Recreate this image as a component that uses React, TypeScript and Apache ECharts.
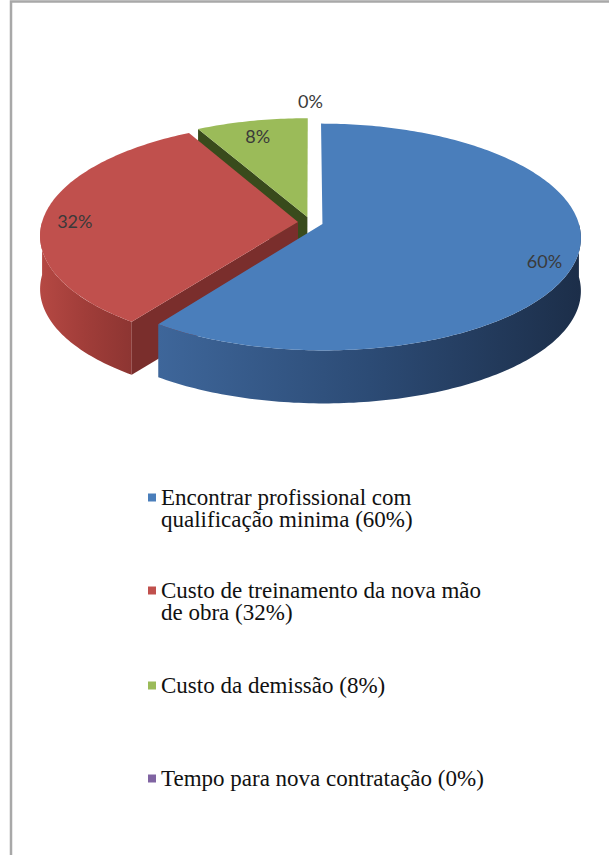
import React, { useEffect, useRef } from "react";
import * as echarts from "echarts";

// ---- data ----
const categories = [
  "Encontrar profissional com qualificação minima",
  "Custo de treinamento da nova mão de obra",
  "Custo da demissão",
  "Tempo para nova contratação",
];
const values = [60, 32, 8, 0];
const topColors = ["#4a7ebb", "#c0504d", "#9bbb59", "#8064a2"];
const sideColors = [
  ["#3e669a", "#2c4b75", "#1c2e49"],
  ["#b54843", "#a03d39", "#8d3532"],
  ["#6f8c3b", "#5c7531", "#4a6126"],
  ["#5e4a7a", "#4f3e68", "#413356"],
];
const faceColors = ["#22385a", "#7a2e2c", "#394b1c", "#4b3b62"];

// ---- geometry (pseudo-3D projection) ----
const CX = 310.5;
const CY = 222.3;
const RX = 256;
const RY = 113;
const QX = 0.12;
const PY = 0.115;
const DEPTH = 53;
const EXPLODE = 0.049;
const LABEL_R = 0.88;
const LABEL_DY = 5;
const ZERO_LABEL_R = 1.2;
const LEGEND_LEFT = 148;
const LEGEND_ICON_CENTERS = [497, 590, 685, 778];
const LEGEND_SIZE = 23;
const LEGEND_FAMILY = "'Liberation Serif', 'Times New Roman', serif";
const LEGEND_WIDTH = 332;
const LEGEND_LINE = 22;

const total = values.reduce((a, b) => a + b, 0);
const starts = values.map((_, i) => values.slice(0, i).reduce((a, b) => a + b, 0));
const RAD = Math.PI / 180;

function proj(u: number, v: number): number[] {
  return [CX + u * RX * (1 + QX * v), CY + v * RY * (1 + PY * v)];
}

function wrapText(text: string): string[] {
  const ctx = document.createElement("canvas").getContext("2d")!;
  ctx.font = `${LEGEND_SIZE}px ${LEGEND_FAMILY}`;
  const words = text.split(" ");
  const lines: string[] = [];
  let cur = "";
  for (const w of words) {
    const t = cur ? cur + " " + w : w;
    if (cur && ctx.measureText(t).width > LEGEND_WIDTH) {
      lines.push(cur);
      cur = w;
    } else cur = t;
  }
  if (cur) lines.push(cur);
  return lines;
}

function renderSlice(params: any, api: any) {
  const i = params.seriesIndex;
  const start = api.value(0) as number;
  const val = api.value(1) as number;
  const a0 = (start / total) * 360;
  const a1 = ((start + val) / total) * 360;
  const mid = ((a0 + a1) / 2) * RAD;
  const au = EXPLODE * Math.sin(mid);
  const av = -EXPLODE * Math.cos(mid);
  const pt = (deg: number, r: number) => {
    const t = deg * RAD;
    return proj(au + r * Math.sin(t), av - r * Math.cos(t));
  };
  const arc = (s0: number, s1: number) => {
    const n = Math.max(2, Math.ceil(s1 - s0));
    const pts: number[][] = [];
    for (let k = 0; k <= n; k++) pts.push(pt(s0 + ((s1 - s0) * k) / n, 1));
    return pts;
  };
  const down = (p: number[]) => [p[0], p[1] + DEPTH];
  const children: any[] = [];
  if (val > 0) {
    const apex = pt(0, 0);
    const s0 = Math.max(a0, 90);
    const s1 = Math.min(a1, 270);
    if (s1 > s0) {
      const top = arc(s0, s1);
      const bottom = top.map(down).reverse();
      children.push({
        type: "polygon",
        shape: { points: top.concat(bottom) },
        style: {
          fill: new echarts.graphic.LinearGradient(0, 0, 1, 0, [
            { offset: 0, color: sideColors[i][0] },
            { offset: 0.5, color: sideColors[i][1] },
            { offset: 1, color: sideColors[i][2] },
          ]),
        },
      });
    }
    const face = (a: number) => {
      const e = pt(a, 1);
      children.push({
        type: "polygon",
        shape: { points: [apex, e, down(e), down(apex)] },
        style: { fill: faceColors[i] },
      });
    };
    if (Math.sin(a0 * RAD) < -1e-6) face(a0);
    if (Math.sin(a1 * RAD) > 1e-6) face(a1);
    children.push({
      type: "polygon",
      shape: { points: [apex].concat(arc(a0, a1)) },
      style: { fill: topColors[i] },
    });
  }
  const lp = pt((a0 + a1) / 2, val > 0 ? LABEL_R : ZERO_LABEL_R);
  children.push({
    type: "text",
    x: lp[0],
    y: lp[1] + (val > 0 ? LABEL_DY : 0),
    style: {
      text: Math.round((val / total) * 100) + "%",
      fill: "#3a3a3a",
      font: "18px Lato",
      align: "center",
      verticalAlign: "middle",
      textAlign: "center",
      textVerticalAlign: "middle",
    },
  });
  return { type: "group", children };
}

export default function App() {
  const ref = useRef<HTMLDivElement>(null);
  useEffect(() => {
    if (!ref.current) return;
    const chart = echarts.init(ref.current, null, { renderer: "svg" });
    const depthOrder = values
      .map((v, i) => ({ i, d: -Math.cos((((starts[i] + v / 2) / total) * 360) * RAD) }))
      .sort((a, b) => a.d - b.d)
      .map((o) => o.i);
    const series = categories.map((name, i) => ({
      type: "custom",
      name,
      coordinateSystem: "none",
      renderItem: renderSlice,
      data: [[starts[i], values[i]]],
      itemStyle: { color: topColors[i] },
      z: 2 + depthOrder.indexOf(i),
      silent: true,
    }));
    const legends = categories.map((name, i) => {
      const lines = wrapText(`${name} (${values[i]}%)`);
      // blank leading lines keep the icon level with the first text line
      const shown = new Array(lines.length - 1).fill("").concat(lines);
      const blockH = shown.length * LEGEND_LINE;
      return {
        data: [name],
        left: LEGEND_LEFT,
        top: LEGEND_ICON_CENTERS[i] - blockH / 2,
        orient: "vertical",
        icon: "rect",
        itemWidth: 8,
        itemHeight: 8,
        padding: 0,
        selectedMode: false,
        formatter: () => shown.join("\n"),
        textStyle: {
          fontFamily: LEGEND_FAMILY,
          fontSize: LEGEND_SIZE,
          lineHeight: LEGEND_LINE,
          color: "#111111",
        },
      };
    });
    chart.setOption({
      animation: false,
      backgroundColor: "#ffffff",
      graphic: [
        {
          type: "polyline",
          shape: { points: [[11, 860], [11, 1.5], [615, 1.5]] },
          style: { stroke: "#a8a8a8", lineWidth: 2.5, fill: null },
          silent: true,
        },
      ],
      legend: legends,
      series,
    });
    return () => chart.dispose();
  }, []);
  return (
    <div
      ref={ref}
      style={{ position: "fixed", left: 0, top: 0, width: 609, height: 855, background: "#fff" }}
    />
  );
}
